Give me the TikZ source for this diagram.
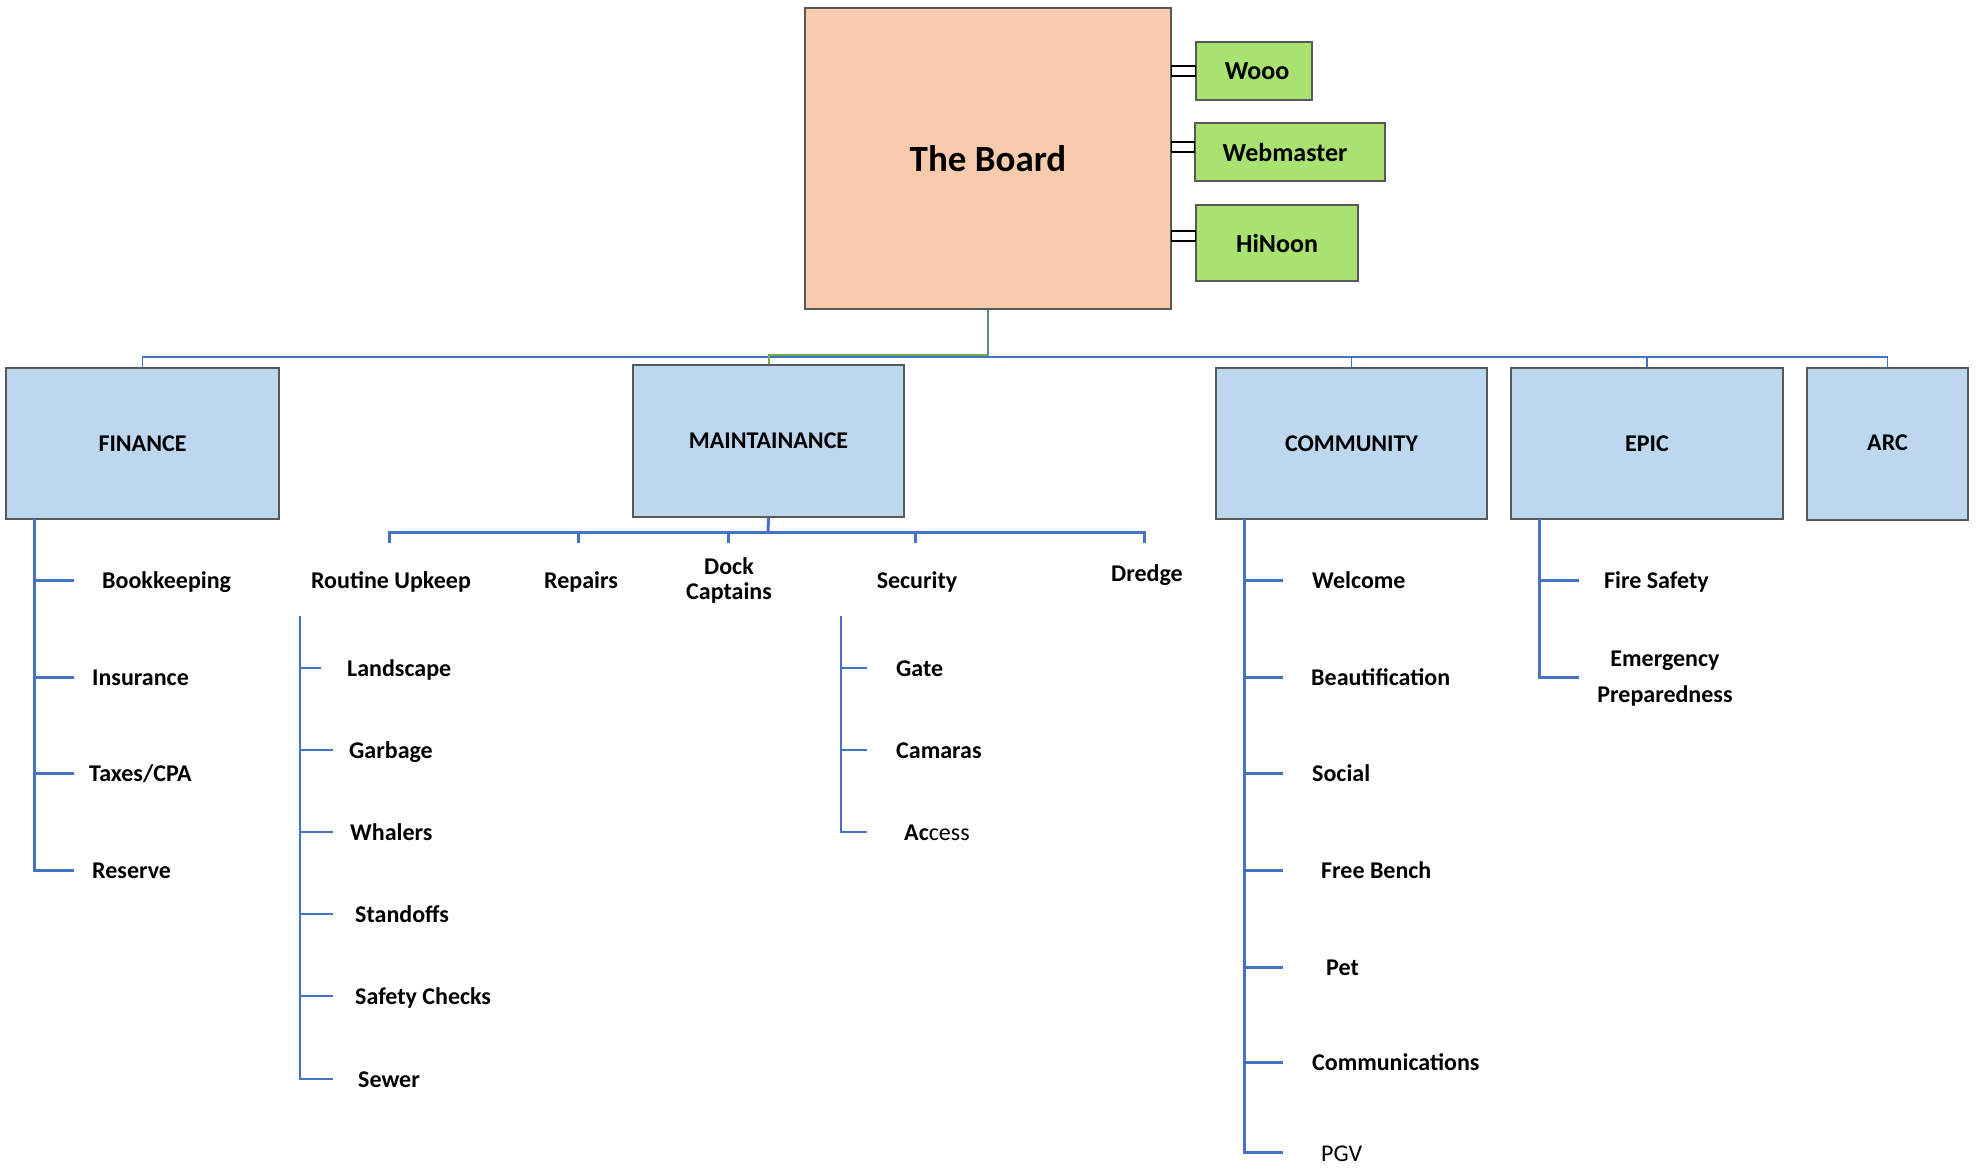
\documentclass[tikz,border=0pt]{standalone}
\usepackage{fontspec}
\setmainfont{Carlito}
\definecolor{peach}{HTML}{F8CBAD}
\definecolor{lgreen}{HTML}{A9E271}
\definecolor{lblue}{HTML}{BDD7EE}
\definecolor{lineblue}{HTML}{4472C4}
\definecolor{linegreen}{HTML}{70AD47}
\definecolor{boxborder}{HTML}{595959}
\begin{document}
\begin{tikzpicture}[x=1pt,y=-1pt,
  boxbase/.style={draw=boxborder,line width=1.4pt,inner sep=0pt,font=\bfseries},
  boardbox/.style={boxbase,fill=peach,font=\bfseries\fontsize{37}{40}\selectfont},
  greenbox/.style={boxbase,fill=lgreen,font=\bfseries\fontsize{26}{30}\selectfont},
  deptbox/.style={boxbase,fill=lblue,font=\bfseries\fontsize{24}{28}\selectfont},
  lbl/.style={anchor=base west,inner sep=0pt,font=\bfseries\fontsize{24}{28}\selectfont},
  clbl/.style={anchor=base,inner sep=0pt,font=\bfseries\fontsize{24}{28}\selectfont},
  thickline/.style={draw=lineblue,line width=3pt},
  thinline/.style={draw=lineblue,line width=1.6pt},
  busline/.style={draw=lineblue,line width=1.6pt},
  linkbox/.style={draw=black,line width=1.2pt,fill=white},
]
\useasboundingbox (0,0) rectangle (1976,1169);

% Board and side boxes
\node[boardbox,minimum width=366pt,minimum height=301pt] (board) at (988,158.5) {The Board};
\node[greenbox,minimum width=116pt,minimum height=58pt] (wooo) at (1254,71) {\hspace*{6pt}Wooo};
\node[greenbox,minimum width=190pt,minimum height=58pt] (web) at (1290,152) {\hspace*{-10pt}Webmaster};
\node[greenbox,minimum width=162pt,minimum height=76pt] (hinoon) at (1277,243) {HiNoon};

\draw[linkbox] (board.east |- 0,66) rectangle (wooo.west |- 0,76);
\draw[linkbox] (board.east |- 0,142) rectangle (web.west |- 0,152);
\draw[linkbox] (board.east |- 0,231) rectangle (hinoon.west |- 0,241);

% Departments
\node[deptbox,minimum width=273pt,minimum height=151pt] (fin) at (142.5,443.5) {FINANCE};
\node[deptbox,minimum width=271pt,minimum height=152pt] (maint) at (768.5,441) {MAINTAINANCE};
\node[deptbox,minimum width=271pt,minimum height=151pt] (com) at (1351.5,443.5) {COMMUNITY};
\node[deptbox,minimum width=272pt,minimum height=151pt] (epic) at (1647,443.5) {EPIC};
\node[deptbox,minimum width=161pt,minimum height=152pt] (arc) at (1887.5,444) {\raisebox{3pt}{ARC}};

% Top bus
\coordinate (busy) at (0,357);
\draw[busline] (fin.north) -- (fin.north |- busy) -- (arc.north |- busy) -- (arc.north);
\draw[busline] (com.north) -- (com.north |- busy);
\draw[busline] (epic.north) -- (epic.north |- busy);
\draw[draw=linegreen,line width=2pt] (board.south) -- (board.south |- 0,354.5) -- (maint.north |- 0,354.5) -- (maint.north);
\draw[draw=lineblue!60!linegreen,line width=1.6pt] (board.south) -- (board.south |- 0,355);

% Finance subtree
\coordinate (fs) at (34,519);
\node[lbl] (bk) at (102,588) {Bookkeeping};
\node[lbl] (ins) at (92,685) {Insurance};
\node[lbl] (tax) at (89,781) {Taxes/CPA};
\node[lbl] (res) at (92,878) {Reserve};
\coordinate (fbk) at (74,580);
\coordinate (fins) at (74,677);
\coordinate (ftax) at (74,773);
\coordinate (fres) at (74,870);
\draw[thickline] (fs) |- (fres);
\draw[thickline] (fs |- fbk) -- (fbk);
\draw[thickline] (fs |- fins) -- (fins);
\draw[thickline] (fs |- ftax) -- (ftax);

% Maintenance subtree
\coordinate (mb) at (768,532);
\draw[thickline] (maint.south) -- (mb);
\coordinate (mL) at (389,543);
\coordinate (mR) at (578,543);
\coordinate (mD) at (728,543);
\coordinate (mS) at (915,543);
\coordinate (mE) at (1144,543);
\draw[thickline] (mL) |- (mE |- mb) -- (mE);
\draw[thickline] (mR) -- (mR |- mb);
\draw[thickline] (mD) -- (mD |- mb);
\draw[thickline] (mS) -- (mS |- mb);

\node[clbl] (ru) at (391,588) {Routine Upkeep};
\node[clbl] (rep) at (581,588) {Repairs};
\node[anchor=center,align=center,inner sep=0pt,font=\bfseries\fontsize{24}{25}\selectfont] (dock) at (729,580) {Dock\\Captains};
\node[clbl] (sec) at (917,588) {Security};
\node[clbl] (dre) at (1147,581) {Dredge};

% Routine upkeep subtree
\coordinate (rt) at (300,616);
\node[lbl] (land) at (347,676) {Landscape};
\node[lbl] (garb) at (349,758) {Garbage};
\node[lbl] (wha) at (350,840) {Whalers};
\node[lbl] (sta) at (355,922) {Standoffs};
\node[lbl] (saf) at (355,1004) {Safety Checks};
\node[lbl] (sew) at (358,1087) {Sewer};
\coordinate (rland) at (321,668);
\coordinate (rgarb) at (333,750);
\coordinate (rwha) at (333,832);
\coordinate (rsta) at (333,914);
\coordinate (rsaf) at (333,996);
\coordinate (rsew) at (333,1079);
\draw[thinline] (rt) |- (rsew);
\draw[thinline] (rt |- rland) -- (rland);
\draw[thinline] (rt |- rgarb) -- (rgarb);
\draw[thinline] (rt |- rwha) -- (rwha);
\draw[thinline] (rt |- rsta) -- (rsta);
\draw[thinline] (rt |- rsaf) -- (rsaf);

% Security subtree
\coordinate (st) at (841,616);
\node[lbl] (gate) at (896,676) {Gate};
\node[lbl] (cam) at (896,758) {Camaras};
\node[lbl] (acc) at (904,840) {Ac\mdseries cess};
\coordinate (sgate) at (867,668);
\coordinate (scam) at (867,750);
\coordinate (sacc) at (867,832);
\draw[thinline] (st) |- (sacc);
\draw[thinline] (st |- sgate) -- (sgate);
\draw[thinline] (st |- scam) -- (scam);

% Community subtree
\coordinate (cs) at (1244,519);
\node[lbl] (wel) at (1312,588) {Welcome};
\node[lbl] (bea) at (1311,685) {Beautification};
\node[lbl] (soc) at (1312,781) {Social};
\node[lbl] (fb) at (1321,878) {Free Bench};
\node[lbl] (pet) at (1326,975) {Pet};
\node[lbl] (comm) at (1312,1070) {Communications};
\node[lbl,font=\mdseries\fontsize{24}{28}\selectfont] (pgv) at (1321,1161) {PGV};
\coordinate (cwel) at (1283,580);
\coordinate (cbea) at (1283,677);
\coordinate (csoc) at (1283,773);
\coordinate (cfb) at (1283,870);
\coordinate (cpet) at (1283,967);
\coordinate (ccomm) at (1283,1062);
\coordinate (cpgv) at (1283,1152);
\draw[thickline] (cs) |- (cpgv);
\draw[thickline] (cs |- cwel) -- (cwel);
\draw[thickline] (cs |- cbea) -- (cbea);
\draw[thickline] (cs |- csoc) -- (csoc);
\draw[thickline] (cs |- cfb) -- (cfb);
\draw[thickline] (cs |- cpet) -- (cpet);
\draw[thickline] (cs |- ccomm) -- (ccomm);

% EPIC subtree
\coordinate (es) at (1539,519);
\node[lbl] (fire) at (1604,588) {Fire Safety};
\node[anchor=center,align=center,inner sep=0pt,font=\bfseries\fontsize{24}{36}\selectfont] (emer) at (1665,679) {Emergency\\Preparedness};
\coordinate (efire) at (1579,580);
\coordinate (eemer) at (1579,677);
\draw[thickline] (es) |- (eemer);
\draw[thickline] (es |- efire) -- (efire);
\end{tikzpicture}
\end{document}
